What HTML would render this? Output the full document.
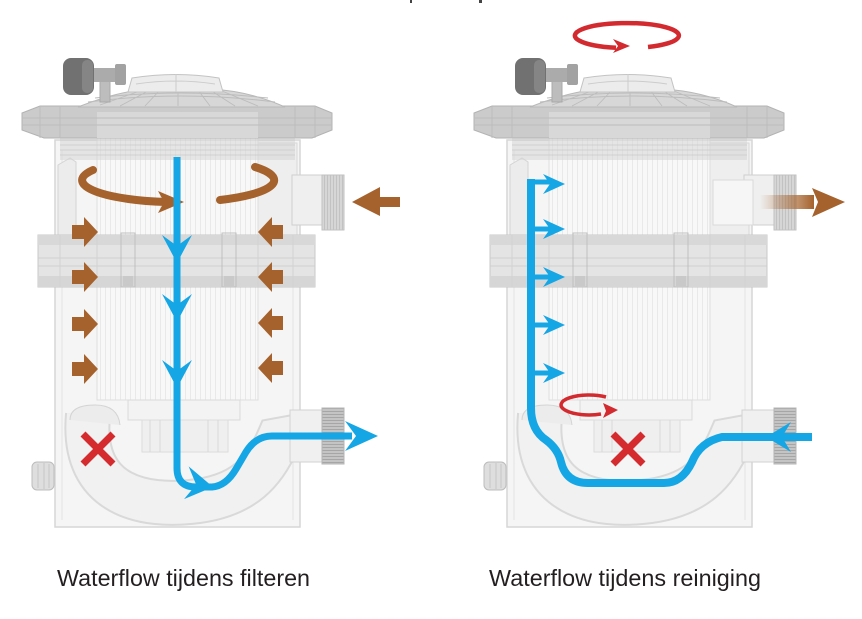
<!DOCTYPE html>
<html>
<head>
<meta charset="utf-8">
<style>
html,body{margin:0;padding:0;background:#fff;}
svg{display:block;}
</style>
</head>
<body>
<svg width="862" height="619" viewBox="0 0 862 619" xmlns="http://www.w3.org/2000/svg">
<defs>
  <pattern id="pl" width="5" height="10" patternUnits="userSpaceOnUse">
    <rect width="5" height="10" fill="#f8f8f8"/><rect width="1" height="10" fill="#e9e9e9"/>
  </pattern>
  <pattern id="thh" width="4" height="3" patternUnits="userSpaceOnUse">
    <rect width="4" height="3" fill="#c4c4c4"/><rect width="4" height="1" fill="#a6a6a6"/>
  </pattern>
  <pattern id="thv" width="3" height="4" patternUnits="userSpaceOnUse">
    <rect width="3" height="4" fill="#d6d6d6"/><rect width="1" height="4" fill="#c2c2c2"/>
  </pattern>
  <linearGradient id="fade" x1="0" x2="1" y1="0" y2="0">
    <stop offset="0" stop-color="#a5622c" stop-opacity="0"/>
    <stop offset="1" stop-color="#a5622c" stop-opacity="1"/>
  </linearGradient>
  <g id="H">
    <!-- base -->
    <rect x="58" y="498" width="242" height="29" fill="#f3f3f3" stroke="#dadada"/>
    <path d="M80,527 L112,505 L248,505 L280,527 M58,512 H300" fill="none" stroke="#dedede"/>
    <!-- body -->
    <rect x="55" y="140" width="245" height="387" fill="#f5f5f5" stroke="#d6d6d6" stroke-width="1.5"/>
    <path d="M62,150 V520 M293,150 V520" stroke="#e3e3e3" fill="none"/>
    <!-- upper side parts -->
    <polygon points="222,152 258,143 297,143 297,235 258,235 258,152" fill="#eeeeee" stroke="#d8d8d8"/>
    <polygon points="58,165 70,158 76,162 76,235 58,235" fill="#ececec" stroke="#d4d4d4"/>
    <!-- cartridge -->
    <rect x="97" y="128" width="161" height="272" fill="url(#pl)" stroke="#dedede"/>
    <line x1="97" y1="129" x2="258" y2="129" stroke="#e2e2c4" stroke-width="2"/>
    <!-- U pipe -->
    <path d="M88,415 C80,500 150,506 190,502 C245,497 265,470 278,440 L300,436" fill="none" stroke="#d9d9d9" stroke-width="46"/>
    <path d="M88,415 C80,500 150,506 190,502 C245,497 265,470 278,440 L300,436" fill="none" stroke="#f1f1f1" stroke-width="42"/>
    <path d="M70,420 Q70,405 95,405 Q118,405 120,425" fill="#ececec" stroke="#d4d4d4"/>
    <!-- core cap -->
    <rect x="128" y="400" width="112" height="20" fill="#f3f3f3" stroke="#dadada"/>
    <rect x="142" y="420" width="86" height="32" fill="#efefef" stroke="#dcdcdc"/>
    <path d="M150,420 V452 M160,420 V452 M208,420 V452 M218,420 V452" stroke="#d8d8d8"/>
    <!-- outlet pipe -->
    <rect x="290" y="410" width="32" height="52" fill="#f0f0f0" stroke="#d2d2d2"/>
    <rect x="322" y="408" width="22" height="56" fill="url(#thh)" stroke="#b5b5b5"/>
    <!-- left fitting -->
    <rect x="32" y="462" width="22" height="28" rx="5" fill="#dedede" stroke="#bcbcbc"/>
    <path d="M38,464 V488 M44,463 V489 M49,464 V488" stroke="#c6c6c6"/>
    <!-- flange -->
    <rect x="38" y="235" width="277" height="52" fill="#e4e4e4" stroke="#c8c8c8"/>
    <rect x="38" y="235" width="277" height="10" fill="#d8d8d8"/>
    <rect x="38" y="276" width="277" height="11" fill="#d6d6d6"/>
    <path d="M38,258 H315 M38,266 H315" stroke="#cfcfcf"/>
    <path d="M60,235 V287 M97,235 V287 M258,235 V287 M293,235 V287" stroke="#d2d2d2"/>
    <rect x="121" y="233" width="14" height="54" fill="none" stroke="#bfbfbf"/>
    <rect x="222" y="233" width="14" height="54" fill="none" stroke="#bfbfbf"/>
    <rect x="123" y="276" width="10" height="10" fill="#c9c9c9"/>
    <rect x="224" y="276" width="10" height="10" fill="#c9c9c9"/>
    <!-- inlet pipe -->
    <rect x="292" y="175" width="30" height="50" fill="#efefef" stroke="#cfcfcf"/>
    <rect x="322" y="175" width="22" height="55" fill="url(#thv)" stroke="#c2c2c2"/>
    <!-- thread ring under lid -->
    <rect x="60" y="135" width="235" height="25" fill="#d6d6d6" fill-opacity="0.55"/>
    <path d="M60,140 H295 M60,145 H295 M60,150 H295 M60,155 H295" stroke="#c9c9c9" stroke-opacity="0.7"/>
    <!-- lid ring -->
    <polygon points="40,106 315,106 332,113 332,130 312,138 44,138 22,130 22,113" fill="#cbcbcb" stroke="#b3b3b3"/>
    <rect x="97" y="112" width="161" height="26" fill="#d8d8d8"/>
    <path d="M22,118 H332 M22,125 H332 M40,106 V138 M315,106 V138 M60,106 V138 M295,106 V138" stroke="#bdbdbd" fill="none"/>
    <!-- dome -->
    <path d="M78,107 Q118,91 150,89 L210,89 Q250,91 285,107 Z" fill="#d7d7d7" stroke="#b8b8b8"/>
    <path d="M100,105 L140,91 M120,106 L150,90 M145,106 L160,90 M178,106 V90 M210,106 L198,90 M235,106 L210,90 M258,106 L222,91 M88,102 Q180,90 275,102 M95,98 Q180,88 268,98" stroke="#bcbcbc" fill="none" stroke-width="0.9"/>
    <!-- top rim -->
    <path d="M128,92 L132,78 Q176,71 219,78 L223,92 Z" fill="#ececec" stroke="#c3c3c3"/>
    <path d="M136,84 Q176,78 215,84 M176,74 V92" stroke="#cccccc" fill="none"/>
    <!-- gauge -->
    <rect x="100" y="80" width="10" height="22" fill="#bdbdbd" stroke="#a9a9a9"/>
    <rect x="90" y="68" width="28" height="14" fill="#ababab"/>
    <rect x="115" y="64" width="11" height="21" rx="2" fill="#a2a2a2"/>
    <rect x="87" y="68" width="7" height="14" fill="#e9ebd0"/>
    <rect x="63" y="58" width="31" height="37" rx="8" fill="#717171"/>
    <rect x="82" y="60" width="11" height="33" rx="5" fill="#858585"/>
  </g>
</defs>

<!-- faint cut-off text at top -->
<rect x="410" y="0" width="2" height="3" fill="#444"/>
<rect x="479" y="0" width="3" height="3" fill="#444"/>

<use href="#H"/>
<use href="#H" x="452"/>
<!-- right image cut face on upper pipe -->
<rect x="713" y="180" width="40" height="45" fill="#f6f6f6" stroke="#dadada"/>

<!-- ===== LEFT ARROWS ===== -->
<!-- brown swirl -->
<g fill="none" stroke="#a5622c" stroke-width="8" stroke-linecap="round">
  <path d="M93,170 A96,22 0 0 0 166,202"/>
  <path d="M220,200 A96,22 0 0 0 255,167"/>
</g>
<polygon points="184,202 158,191 164,202 158,213" fill="#a5622c"/>
<!-- brown block arrows -->
<g fill="#a5622c">
  <polygon points="72,225 84,225 84,217 98,232 84,247 84,239 72,239"/>
  <polygon points="72,270 84,270 84,262 98,277 84,292 84,284 72,284"/>
  <polygon points="72,317 84,317 84,309 98,324 84,339 84,331 72,331"/>
  <polygon points="72,362 84,362 84,354 98,369 84,384 84,376 72,376"/>
  <polygon points="283,225 272,225 272,217 258,232 272,247 272,239 283,239"/>
  <polygon points="283,270 272,270 272,262 258,277 272,292 272,284 283,284"/>
  <polygon points="283,316 272,316 272,308 258,323 272,338 272,330 283,330"/>
  <polygon points="283,361 272,361 272,353 258,368 272,383 272,375 283,375"/>
  <polygon points="400,197 380,197 380,187 352,202 380,216 380,207 400,207"/>
</g>
<!-- blue flow -->
<path d="M177,157 V468 Q177,487 196,487 L212,487 Q226,486 236,469 L246,452 Q256,436 272,436 H352" fill="none" stroke="#15a6e5" stroke-width="7" stroke-linejoin="round"/>
<g fill="#15a6e5">
  <path transform="translate(177,263)" d="M0,0 L-15,-28 L0,-17 L15,-28 Z"/>
  <path transform="translate(177,322)" d="M0,0 L-15,-28 L0,-17 L15,-28 Z"/>
  <path transform="translate(177,388)" d="M0,0 L-15,-28 L0,-17 L15,-28 Z"/>
  <path transform="translate(213,487) rotate(8)" d="M0,0 L-27,-17 L-17,0 L-27,16 Z"/>
  <path transform="translate(378,436)" d="M0,0 L-33,-15 L-22,0 L-33,15 Z"/>
</g>
<!-- red X -->
<g stroke="#d52b2e" stroke-width="7">
  <line x1="83" y1="434" x2="113" y2="464"/>
  <line x1="113" y1="434" x2="83" y2="464"/>
  <line x1="613" y1="434" x2="643" y2="464"/>
  <line x1="643" y1="434" x2="613" y2="464"/>
</g>

<!-- ===== RIGHT ARROWS ===== -->
<!-- red top swirl -->
<path d="M648,47 A52,12.5 0 1 0 616,47.8" fill="none" stroke="#d32a2f" stroke-width="4.5"/>
<polygon points="630,46 613,39 618,46 613,53" fill="#d32a2f"/>
<!-- small red swirl -->
<path d="M606,397 A28,10 0 1 0 601,414" fill="none" stroke="#d32a2f" stroke-width="3.5"/>
<polygon points="618,410 603,403 606,411 603,418" fill="#d32a2f"/>
<!-- brown outlet -->
<rect x="760" y="195" width="54" height="14" fill="url(#fade)"/>
<polygon points="812,188 845,202 812,217 818,202" fill="#a5622c"/>
<!-- blue flow -->
<path d="M531,179 V408 Q531,430 546,440 Q558,449 561,462 Q566,483 588,483 H664 Q682,483 692,462 Q700,442 722,437 H812" fill="none" stroke="#15a6e5" stroke-width="8" stroke-linejoin="round"/>
<g stroke="#15a6e5" stroke-width="5">
  <line x1="531" y1="182" x2="550" y2="182"/>
  <line x1="531" y1="229" x2="550" y2="229"/>
  <line x1="531" y1="277" x2="550" y2="277"/>
  <line x1="531" y1="325" x2="550" y2="325"/>
  <line x1="531" y1="373" x2="550" y2="373"/>
</g>
<g fill="#15a6e5">
  <path transform="translate(565,184)" d="M0,0 L-22,-10 L-15,0 L-22,10 Z"/>
  <path transform="translate(565,229)" d="M0,0 L-22,-10 L-15,0 L-22,10 Z"/>
  <path transform="translate(565,277)" d="M0,0 L-22,-10 L-15,0 L-22,10 Z"/>
  <path transform="translate(565,325)" d="M0,0 L-22,-10 L-15,0 L-22,10 Z"/>
  <path transform="translate(565,373)" d="M0,0 L-22,-10 L-15,0 L-22,10 Z"/>
  <path transform="translate(766,437)" d="M0,0 L25,-15 L16,0 L25,15 Z"/>
</g>

<!-- captions -->
<text x="57" y="586" font-family="'Liberation Sans', sans-serif" font-size="23" fill="#231f20" textLength="253" lengthAdjust="spacingAndGlyphs">Waterflow tijdens filteren</text>
<text x="489" y="586" font-family="'Liberation Sans', sans-serif" font-size="23" fill="#231f20" textLength="272" lengthAdjust="spacingAndGlyphs">Waterflow tijdens reiniging</text>
</svg>
</body>
</html>
